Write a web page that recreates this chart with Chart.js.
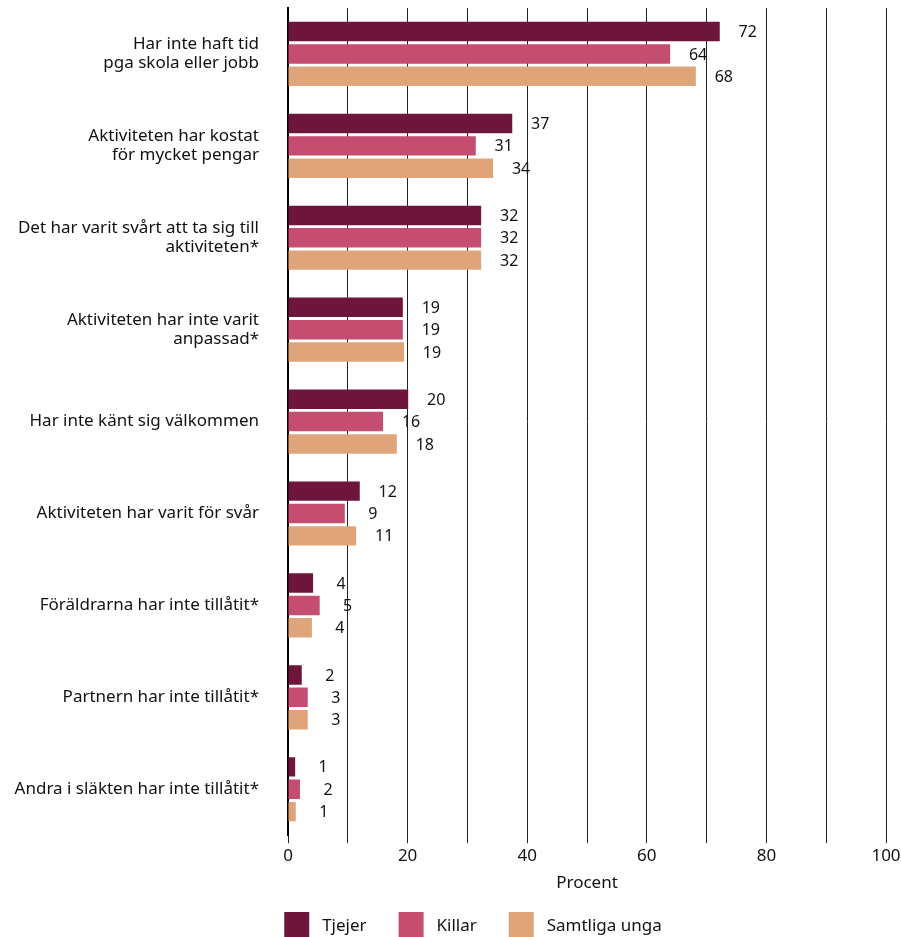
<!DOCTYPE html>
<html>
<head>
<meta charset="utf-8">
<script src="https://cdn.jsdelivr.net/npm/chart.js@4.4.1/dist/chart.umd.min.js"></script>
<style>
  html, body { margin: 0; padding: 0; background: #fff; overflow: hidden; }
  #wrap { width: 901px; height: 950px; position: relative; }
</style>
</head>
<body>
<div id="wrap"><canvas id="chart"></canvas></div>
<script>
const categories = [
  ["Har inte haft tid", "pga skola eller jobb"],
  ["Aktiviteten har kostat", "för mycket pengar"],
  ["Det har varit svårt att ta sig till", "aktiviteten*"],
  ["Aktiviteten har inte varit", "anpassad*"],
  "Har inte känt sig välkommen",
  "Aktiviteten har varit för svår",
  "Föräldrarna har inte tillåtit*",
  "Partnern har inte tillåtit*",
  "Andra i släkten har inte tillåtit*"
];
const seriesNames = ["Tjejer", "Killar", "Samtliga unga"];
const tjejer   = [72.2, 37.5, 32.3, 19.2, 20.1, 12.0, 4.2, 2.3, 1.2];
const killar   = [63.9, 31.4, 32.3, 19.2, 15.9, 9.5, 5.3, 3.3, 2.0];
const samtliga = [68.2, 34.3, 32.3, 19.4, 18.2, 11.4, 4.0, 3.3, 1.3];
const tjejerLabels   = [72, 37, 32, 19, 20, 12, 4, 2, 1];
const killarLabels   = [64, 31, 32, 19, 16, 9, 5, 3, 2];
const samtligaLabels = [68, 34, 32, 19, 18, 11, 4, 3, 1];
const colors = ["#6d153b", "#c44d70", "#e0a47a"];

const font = "'Noto Sans', 'Open Sans', sans-serif";
const allLabels = [tjejerLabels, killarLabels, samtligaLabels];

const valueLabels = {
  id: "valueLabels",
  afterDatasetsDraw(chart) {
    const ctx = chart.ctx;
    ctx.save();
    ctx.font = "16px " + font;
    ctx.fillStyle = "#111";
    ctx.textAlign = "center";
    ctx.textBaseline = "middle";
    chart.data.datasets.forEach((ds, i) => {
      chart.getDatasetMeta(i).data.forEach((bar, j) => {
        ctx.fillText(String(allLabels[i][j]), bar.x + 28, bar.y + 1);
      });
    });
    ctx.restore();
  }
};

// nudge the legend row so it sits under the plot like the original
const legendShift = {
  id: "legendShift",
  afterLayout(chart) {
    chart.legend.left += 30;
    chart.legend.right += 30;
  }
};

new Chart(document.getElementById("chart"), {
  type: "bar",
  data: {
    labels: categories,
    datasets: [tjejer, killar, samtliga].map((d, i) => ({
      label: seriesNames[i],
      data: d,
      backgroundColor: colors[i],
      categoryPercentage: 0.73,
      barPercentage: 0.87
    }))
  },
  options: {
    indexAxis: "y",
    responsive: true,
    maintainAspectRatio: false,
    animation: false,
    layout: { padding: { top: 8, right: 15, left: 0, bottom: 0 } },
    plugins: {
      tooltip: { enabled: false },
      legend: {
        position: "bottom",
        labels: {
          boxWidth: 25,
          boxHeight: 28,
          padding: 32,
          color: "#111",
          font: { family: font, size: 17 },
          generateLabels(chart) {
            return Chart.defaults.plugins.legend.labels.generateLabels(chart)
              .map(l => ({ ...l, text: " " + l.text }));
          }
        }
      }
    },
    scales: {
      x: {
        min: 0,
        max: 100,
        border: { display: false },
        grid: { color: "#222", lineWidth: 1, tickLength: 8, tickColor: "#222" },
        ticks: {
          stepSize: 10,
          autoSkip: false,
          maxRotation: 0,
          padding: 3,
          color: "#111",
          font: { family: font, size: 17 },
          callback: v => (v % 20 === 0 ? v : "")
        },
        title: {
          display: true,
          text: "Procent",
          color: "#111",
          font: { family: font, size: 17 },
          padding: { top: 3, bottom: -13 }
        },
        afterFit(scale) { scale.paddingLeft = 0; scale.paddingRight = 0; }
      },
      y: {
        border: { display: true, color: "#000", width: 2 },
        grid: { display: false, drawTicks: false },
        ticks: {
          color: "#111",
          padding: 29,
          font: { family: font, size: 17, lineHeight: 1.1 }
        },
        afterFit(scale) {
          scale.width = 288;
          scale.paddingTop = 0;
          scale.paddingBottom = 0;
        }
      }
    }
  },
  plugins: [valueLabels, legendShift]
});
</script>
</body>
</html>
